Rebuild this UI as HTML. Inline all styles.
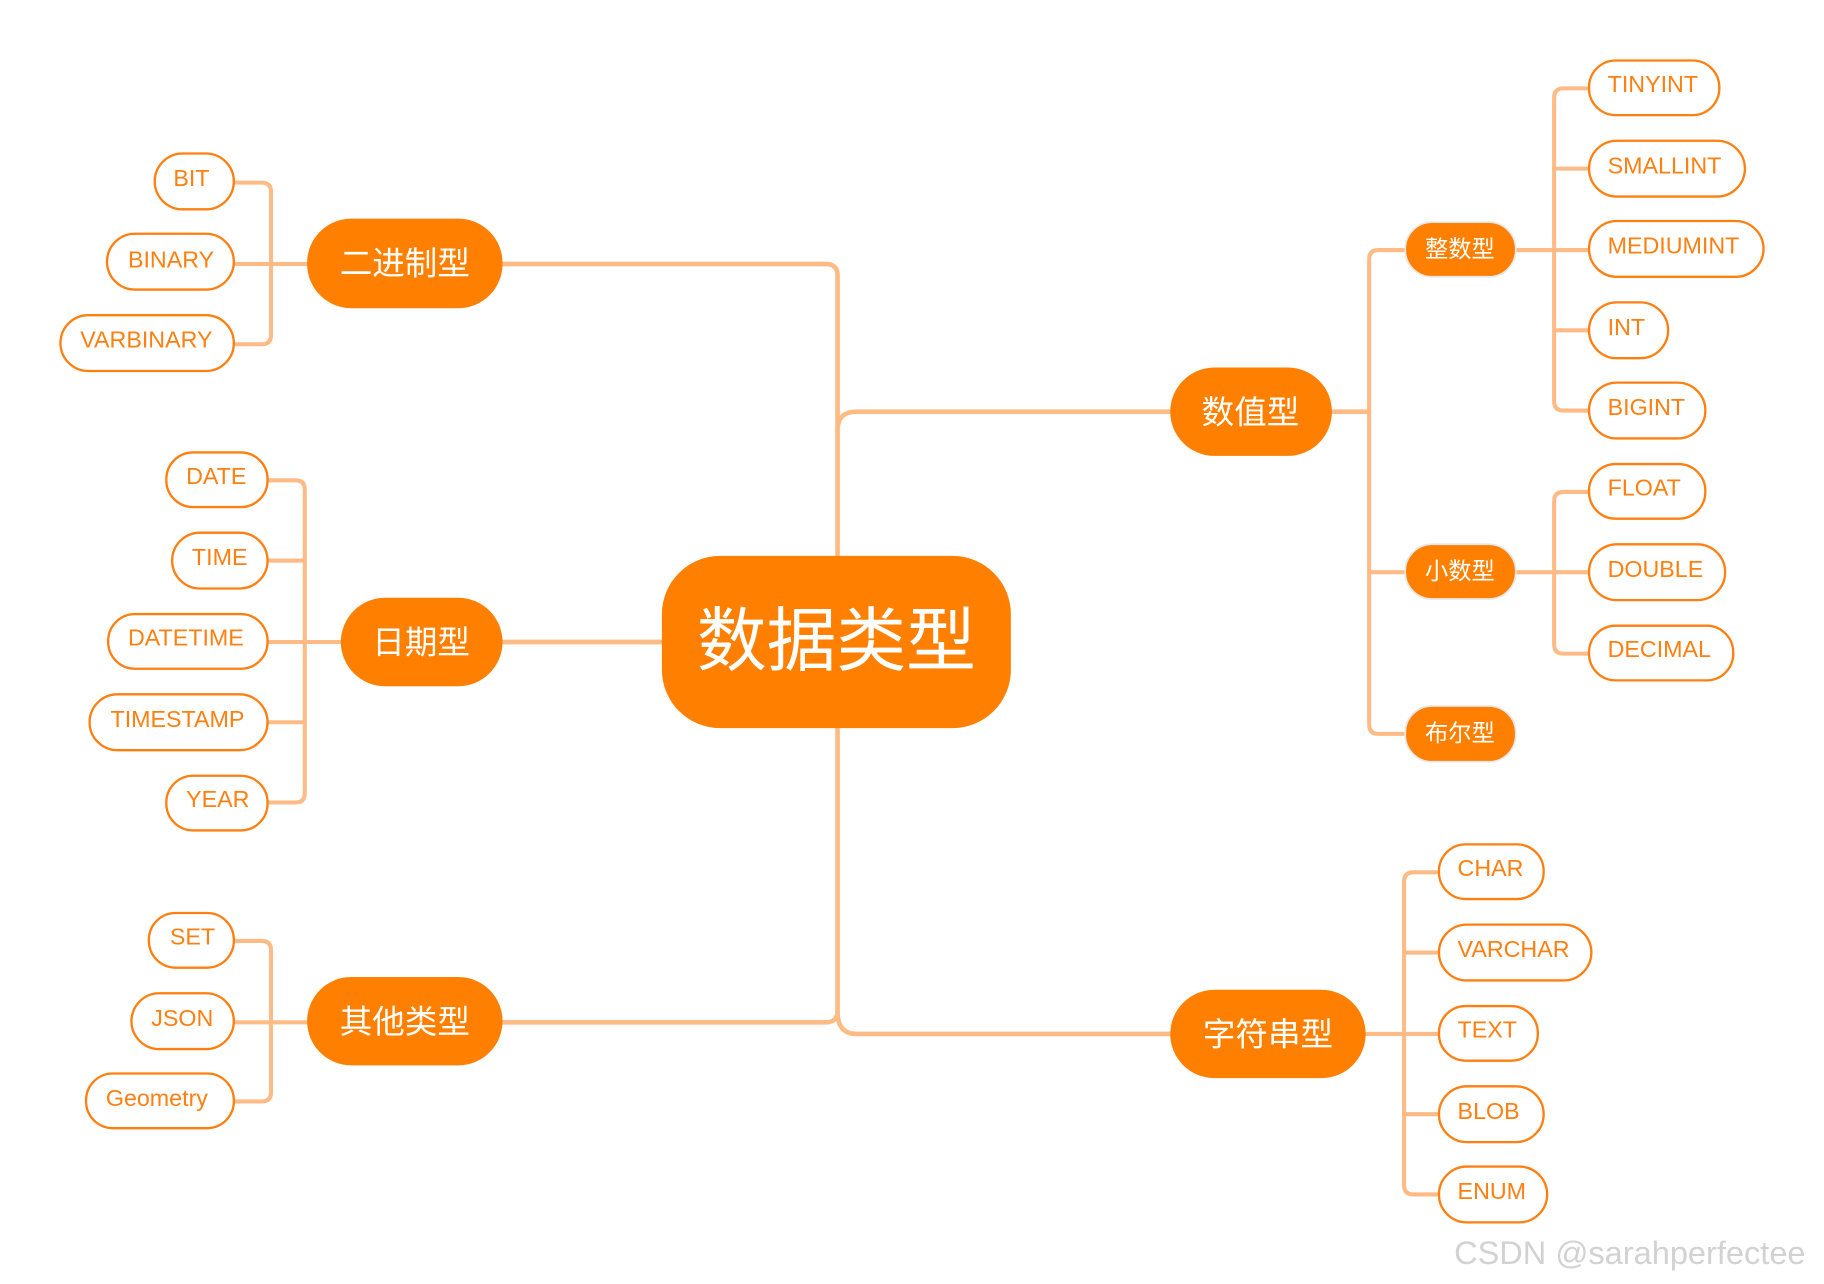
<!DOCTYPE html>
<html><head><meta charset="utf-8"><style>
html,body{margin:0;padding:0;background:#fff;overflow:hidden}
svg{display:block}
text{font-family:"Liberation Sans","Noto Sans CJK SC",sans-serif}
.c{fill:none;stroke:#FFBB85;stroke-width:4;stroke-linecap:round}
.b{fill:none;stroke:#FFBB85;stroke-width:3.5;stroke-linecap:round}
.l{fill:#fff;stroke:#FF7F11;stroke-width:2}
.lt{fill:#FF7F11;font-size:20px}
.n{fill:#FF8000}
.nt{fill:#fff}
</style></head><body>
<svg width="1824" height="1284" viewBox="0 0 1568 1104" preserveAspectRatio="none">
<!-- main connectors -->
<path class="c" d="M432,227 H710 Q720,227 720,237 V478"/>
<path class="c" d="M720,370 Q720,354 736,354 H1006"/>
<path class="c" d="M720,626 V869 Q720,879 710,879 H432"/>
<path class="c" d="M720,870 Q720,889 736,889 H1006"/>
<path class="c" d="M432,552 H569"/>
<!-- 数值型 connectors -->
<path class="c" d="M1145,354 H1177"/>
<path class="b" d="M1208,215 H1185 Q1177,215 1177,223 V623 Q1177,631 1185,631 H1208 M1177,492 H1208"/>
<!-- brackets -->
<path class="b" d="M201,157 H225 Q233,157 233,165 V288 Q233,296 225,296 H201 M201,227 H264"/>
<path class="b" d="M230,413 H254 Q262,413 262,421 V682 Q262,690 254,690 H230 M230,482 H262 M230,552 H293 M230,621 H262"/>
<path class="b" d="M201,809 H225 Q233,809 233,817 V939 Q233,947 225,947 H201 M201,879 H264"/>
<path class="b" d="M1366,76 H1344 Q1336,76 1336,84 V345 Q1336,353 1344,353 H1366 M1336,145 H1366 M1303,215 H1366 M1336,284 H1366"/>
<path class="b" d="M1366,423 H1344 Q1336,423 1336,431 V554 Q1336,562 1344,562 H1366 M1303,492 H1366"/>
<path class="b" d="M1237,750 H1215 Q1207,750 1207,758 V1019 Q1207,1027 1215,1027 H1237 M1207,819 H1237 M1174,889 H1237 M1207,958 H1237"/>
<!-- center -->
<rect class="n" x="569" y="478" width="300" height="148" rx="50"/>
<text class="nt" x="719" y="572" font-size="60" text-anchor="middle">数据类型</text>
<!-- level1 -->
<g font-size="28" text-anchor="middle">
<rect class="n" x="264" y="188" width="168" height="77" rx="38"/><text class="nt" x="348" y="236">二进制型</text>
<rect class="n" x="293" y="514" width="139" height="76" rx="38"/><text class="nt" x="362" y="562">日期型</text>
<rect class="n" x="264" y="840" width="168" height="76" rx="38"/><text class="nt" x="348" y="888">其他类型</text>
<rect class="n" x="1006" y="316" width="139" height="76" rx="38"/><text class="nt" x="1075" y="364">数值型</text>
<rect class="n" x="1006" y="851" width="168" height="76" rx="38"/><text class="nt" x="1090" y="899">字符串型</text>
</g>
<!-- level2 -->
<g font-size="20" text-anchor="middle">
<rect class="n" x="1208" y="191" width="95" height="47" rx="23" stroke="#e8e8e8" stroke-width="1.5"/><text class="nt" x="1255" y="221">整数型</text>
<rect class="n" x="1208" y="468" width="95" height="47" rx="23" stroke="#e8e8e8" stroke-width="1.5"/><text class="nt" x="1255" y="498">小数型</text>
<rect class="n" x="1208" y="607" width="95" height="48" rx="23" stroke="#e8e8e8" stroke-width="1.5"/><text class="nt" x="1255" y="637">布尔型</text>
</g>
<!-- leaves -->
<g>
<rect class="l" x="133" y="132" width="68" height="48" rx="24"/><text class="lt" x="149" y="160">BIT</text>
<rect class="l" x="92" y="201" width="109" height="48" rx="24"/><text class="lt" x="110" y="230">BINARY</text>
<rect class="l" x="52" y="271" width="149" height="48" rx="24"/><text class="lt" x="69" y="299">VARBINARY</text>

<rect class="l" x="143" y="389" width="87" height="47" rx="23"/><text class="lt" x="160" y="416">DATE</text>
<rect class="l" x="148" y="458" width="82" height="48" rx="24"/><text class="lt" x="165" y="486">TIME</text>
<rect class="l" x="93" y="528" width="137" height="47" rx="23"/><text class="lt" x="110" y="555">DATETIME</text>
<rect class="l" x="77" y="597" width="153" height="48" rx="24"/><text class="lt" x="95" y="625">TIMESTAMP</text>
<rect class="l" x="143" y="667" width="87" height="47" rx="23"/><text class="lt" x="160" y="694">YEAR</text>

<rect class="l" x="128" y="785" width="73" height="47" rx="23"/><text class="lt" x="146" y="812">SET</text>
<rect class="l" x="113" y="854" width="88" height="48" rx="24"/><text class="lt" x="130" y="882">JSON</text>
<rect class="l" x="74" y="923" width="127" height="47" rx="23"/><text class="lt" x="91" y="951">Geometry</text>

<rect class="l" x="1366" y="52" width="112" height="47" rx="23"/><text class="lt" x="1382" y="79">TINYINT</text>
<rect class="l" x="1366" y="121" width="134" height="48" rx="24"/><text class="lt" x="1382" y="149">SMALLINT</text>
<rect class="l" x="1366" y="190" width="150" height="48" rx="24"/><text class="lt" x="1382" y="218">MEDIUMINT</text>
<rect class="l" x="1366" y="260" width="68" height="48" rx="24"/><text class="lt" x="1382" y="288">INT</text>
<rect class="l" x="1366" y="329" width="100" height="48" rx="24"/><text class="lt" x="1382" y="357">BIGINT</text>

<rect class="l" x="1366" y="399" width="100" height="47" rx="23"/><text class="lt" x="1382" y="426">FLOAT</text>
<rect class="l" x="1366" y="468" width="117" height="48" rx="24"/><text class="lt" x="1382" y="496">DOUBLE</text>
<rect class="l" x="1366" y="538" width="124" height="47" rx="23"/><text class="lt" x="1382" y="565">DECIMAL</text>

<rect class="l" x="1237" y="726" width="90" height="47" rx="23"/><text class="lt" x="1253" y="753">CHAR</text>
<rect class="l" x="1237" y="795" width="131" height="48" rx="24"/><text class="lt" x="1253" y="823">VARCHAR</text>
<rect class="l" x="1237" y="865" width="85" height="47" rx="23"/><text class="lt" x="1253" y="892">TEXT</text>
<rect class="l" x="1237" y="934" width="90" height="48" rx="24"/><text class="lt" x="1253" y="962">BLOB</text>
<rect class="l" x="1237" y="1003" width="93" height="48" rx="24"/><text class="lt" x="1253" y="1031">ENUM</text>
</g>
<text x="1250" y="1087" font-size="28" fill="#d2d2d2">CSDN @sarahperfectee</text>
</svg>
</body></html>
